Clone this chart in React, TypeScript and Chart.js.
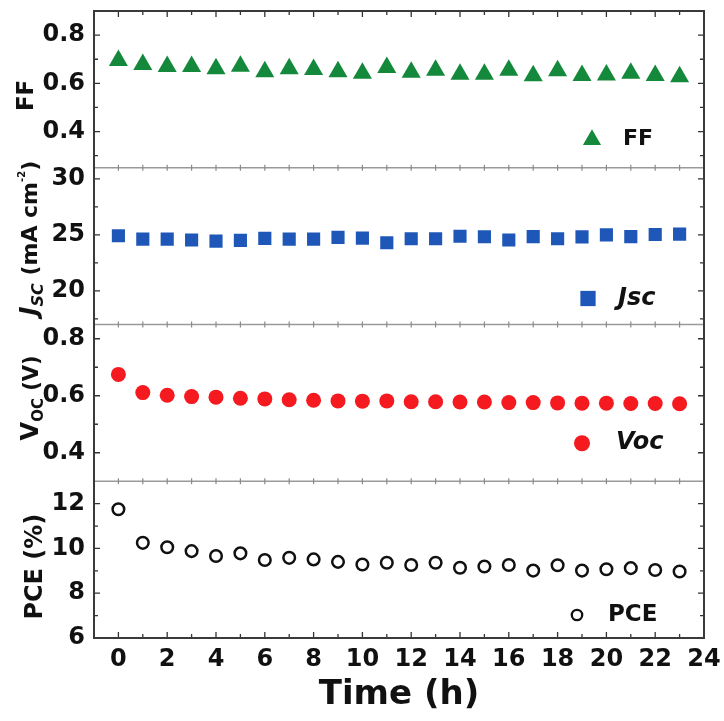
import React, { useEffect, useRef } from 'react';
import { Chart, registerables } from 'chart.js';
import { drawPoint } from 'chart.js/helpers';

Chart.register(...registerables);

// ---------- data ----------
const hours = [0, 1, 2, 3, 4, 5, 6, 7, 8, 9, 10, 11, 12, 13, 14, 15, 16, 17, 18, 19, 20, 21, 22, 23];

const ffValues = [0.695, 0.678, 0.670, 0.670, 0.661, 0.671, 0.648, 0.661, 0.657, 0.648, 0.642, 0.666,
  0.646, 0.654, 0.638, 0.638, 0.654, 0.632, 0.652, 0.633, 0.635, 0.642, 0.633, 0.627];

const jscValues = [24.93, 24.63, 24.63, 24.55, 24.45, 24.52, 24.69, 24.63, 24.63, 24.78, 24.72, 24.30,
  24.66, 24.66, 24.88, 24.84, 24.55, 24.85, 24.66, 24.82, 25.00, 24.85, 25.04, 25.07];

const vocValues = [0.675, 0.611, 0.602, 0.597, 0.595, 0.591, 0.589, 0.586, 0.584, 0.582, 0.581, 0.582,
  0.579, 0.579, 0.578, 0.578, 0.576, 0.576, 0.575, 0.574, 0.574, 0.573, 0.573, 0.572];

const pceValues = [11.75, 10.25, 10.05, 9.88, 9.66, 9.78, 9.48, 9.58, 9.51, 9.40, 9.28, 9.36,
  9.26, 9.36, 9.14, 9.19, 9.26, 9.01, 9.25, 9.01, 9.07, 9.12, 9.04, 8.97];

const xTickLabels = [0, 2, 4, 6, 8, 10, 12, 14, 16, 18, 20, 22, 24];
const xMinorTicks = [0, 1, 2, 3, 4, 5, 6, 7, 8, 9, 10, 11, 12, 13, 14, 15, 16, 17, 18, 19, 20, 21, 22, 23];

const ffTicks = [0.4, 0.6, 0.8];
const ffMinor = [0.3, 0.5, 0.7];
const jscTicks = [20, 25, 30];
const jscMinor = [17.5, 22.5, 27.5];
const vocTicks = [0.4, 0.6, 0.8];
const vocMinor = [0.5, 0.7];
const pceTicks = [6, 8, 10, 12];
const pceMinor = [7, 9, 11];

const seriesNames = ['FF', 'Jsc', 'Voc', 'PCE'];

// ---------- styling ----------
const FONT = 'DejaVu Sans';
const TEXT = '#111111';
const GREEN = '#14893b';
const BLUE = '#1f57b8';
const RED = '#f41a1f';

type Seg = { t: string; font: string; dy?: number };

const panels = [
  {
    id: 'yFF', name: seriesNames[0], values: ffValues, min: 0.25, max: 0.9, ticks: ffTicks, minor: ffMinor,
    point: { pointStyle: 'triangle', pointRadius: 11, backgroundColor: GREEN, borderColor: GREEN, borderWidth: 0 },
    legendPoint: { style: 'triangle', r: 10.5, fill: GREEN, stroke: GREEN, bw: 0 },
    legendFont: `bold 22px "${FONT}"`, legendDx: [-112, -81], legendDy: -28,
    title: [{ t: 'FF', font: `bold 23px "${FONT}"` }] as Seg[], titleX: 33, titleDy: 6,
  },
  {
    id: 'yJsc', name: seriesNames[1], values: jscValues, min: 17, max: 31, ticks: jscTicks, minor: jscMinor,
    point: { pointStyle: 'rect', pointRadius: 9.3, backgroundColor: BLUE, borderColor: BLUE, borderWidth: 0 },
    legendPoint: { style: 'rect', r: 10.8, fill: BLUE, stroke: BLUE, bw: 0 },
    legendFont: `italic bold 24px "${FONT}"`, legendDx: [-116, -86], legendDy: -26,
    title: [
      { t: 'J', font: `italic bold 24px "${FONT}"` },
      { t: 'SC', font: `italic bold 16px "${FONT}"`, dy: 6 },
      { t: ' (mA cm', font: `bold 22px "${FONT}"` },
      { t: '-2', font: `bold 10px "${FONT}"`, dy: -12 },
      { t: ')', font: `bold 22px "${FONT}"` },
    ] as Seg[], titleX: 37, titleDy: -8,
  },
  {
    id: 'yVoc', name: seriesNames[2], values: vocValues, min: 0.3, max: 0.85, ticks: vocTicks, minor: vocMinor,
    point: { pointStyle: 'circle', pointRadius: 7.5, backgroundColor: RED, borderColor: RED, borderWidth: 0 },
    legendPoint: { style: 'circle', r: 8, fill: RED, stroke: RED, bw: 0 },
    legendFont: `italic bold 24px "${FONT}"`, legendDx: [-122, -88], legendDy: -38,
    title: [
      { t: 'V', font: `bold 24px "${FONT}"` },
      { t: 'OC', font: `bold 15px "${FONT}"`, dy: 5 },
      { t: ' (V)', font: `bold 21px "${FONT}"` },
    ] as Seg[], titleX: 38, titleDy: -5,
  },
  {
    id: 'yPCE', name: seriesNames[3], values: pceValues, min: 6, max: 13, ticks: pceTicks, minor: pceMinor,
    point: { pointStyle: 'circle', pointRadius: 5.8, backgroundColor: 'rgba(255,255,255,0)', borderColor: '#111111', borderWidth: 2.5 },
    legendPoint: { style: 'circle', r: 5.2, fill: 'rgba(255,255,255,0)', stroke: '#111111', bw: 2.3 },
    legendFont: `bold 23px "${FONT}"`, legendDx: [-127, -96], legendDy: -23,
    title: [{ t: 'PCE (%)', font: `bold 24px "${FONT}"` }] as Seg[], titleX: 42, titleDy: 7,
  },
];

function drawRotatedTitle(ctx: CanvasRenderingContext2D, segs: Seg[], baseX: number, cy: number) {
  ctx.save();
  let total = 0;
  for (const s of segs) { ctx.font = s.font; total += ctx.measureText(s.t).width; }
  ctx.translate(baseX, cy);
  ctx.rotate(-Math.PI / 2);
  ctx.fillStyle = TEXT;
  ctx.textBaseline = 'alphabetic';
  ctx.textAlign = 'left';
  let x = -total / 2;
  for (const s of segs) {
    ctx.font = s.font;
    ctx.fillText(s.t, x, s.dy || 0);
    x += ctx.measureText(s.t).width;
  }
  ctx.restore();
}

const decorPlugin = {
  id: 'decor',
  afterDraw(chart: any) {
    const ctx: CanvasRenderingContext2D = chart.ctx;
    const area = chart.chartArea;
    const xs = chart.scales.x;
    ctx.save();

    panels.forEach((p, i) => {
      const s = chart.scales[p.id];
      ctx.strokeStyle = '#333333';
      ctx.lineWidth = 1.3;
      const yt = (v: number, len: number) => {
        const y = s.getPixelForValue(v);
        ctx.beginPath();
        ctx.moveTo(area.left, y); ctx.lineTo(area.left + len, y);
        ctx.moveTo(area.right, y); ctx.lineTo(area.right - len, y);
        ctx.stroke();
      };
      p.ticks.forEach((v) => yt(v, 6));
      p.minor.forEach((v) => yt(v, 4));

      if (i > 0) {
        const y = s.top;
        ctx.strokeStyle = '#9a9a9a';
        ctx.lineWidth = 1.5;
        ctx.beginPath();
        ctx.moveTo(area.left, y); ctx.lineTo(area.right, y);
        ctx.stroke();
        ctx.strokeStyle = '#8a8a8a';
        ctx.lineWidth = 1.2;
        xMinorTicks.forEach((v) => {
          const x = xs.getPixelForValue(v);
          ctx.beginPath();
          ctx.moveTo(x, y - 3); ctx.lineTo(x, y + 3);
          ctx.stroke();
        });
      }

      const lx = area.right + p.legendDx[0];
      const tx = area.right + p.legendDx[1];
      const ly = s.bottom + p.legendDy;
      ctx.fillStyle = p.legendPoint.fill;
      ctx.strokeStyle = p.legendPoint.stroke;
      ctx.lineWidth = p.legendPoint.bw;
      drawPoint(ctx, { pointStyle: p.legendPoint.style as any, rotation: 0, radius: p.legendPoint.r, borderWidth: p.legendPoint.bw }, lx, ly);
      ctx.fillStyle = TEXT;
      ctx.font = p.legendFont;
      ctx.textAlign = 'left';
      ctx.textBaseline = 'middle';
      ctx.fillText(p.name, tx, ly);

      drawRotatedTitle(ctx, p.title, p.titleX, (s.top + s.bottom) / 2 + p.titleDy);
    });

    ctx.strokeStyle = '#333333';
    ctx.lineWidth = 1.3;
    xMinorTicks.forEach((v) => {
      const x = xs.getPixelForValue(v);
      const len = v % 2 === 0 ? 6 : 4;
      ctx.beginPath();
      ctx.moveTo(x, area.top); ctx.lineTo(x, area.top + len);
      ctx.moveTo(x, area.bottom); ctx.lineTo(x, area.bottom - len);
      ctx.stroke();
    });

    ctx.strokeStyle = '#3a3a3a';
    ctx.lineWidth = 2;
    ctx.strokeRect(area.left, area.top, area.right - area.left, area.bottom - area.top);
    ctx.restore();
  },
};

export default function App() {
  const ref = useRef<HTMLCanvasElement | null>(null);

  useEffect(() => {
    if (!ref.current) return;

    const scales: any = {
      x: {
        type: 'linear',
        position: 'bottom',
        min: -1,
        max: 24,
        afterBuildTicks: (s: any) => { s.ticks = xTickLabels.map((v) => ({ value: v })); },
        afterFit: (s: any) => { s.height = 83; s.paddingLeft = 0; s.paddingRight = 0; },
        grid: { display: false, drawTicks: false },
        border: { display: false },
        ticks: {
          font: { family: FONT, size: 24, weight: 'bold' },
          color: TEXT,
          padding: 7,
          maxRotation: 0,
          autoSkip: false,
          callback: (v: any) => String(v),
        },
        title: {
          display: true,
          text: 'Time (h)',
          font: { family: FONT, size: 34, weight: 'bold' },
          color: TEXT,
          padding: { top: 0, bottom: 5 },
        },
      },
    };

    [...panels].reverse().forEach((p) => {
      scales[p.id] = {
        type: 'linear',
        position: 'left',
        stack: 'panels',
        stackWeight: 1,
        min: p.min,
        max: p.max,
        afterBuildTicks: (s: any) => { s.ticks = p.ticks.map((v) => ({ value: v })); },
        afterFit: (s: any) => { s.width = 94; s.paddingTop = 0; s.paddingBottom = 0; },
        grid: { display: false, drawTicks: false },
        border: { display: false },
        ticks: {
          font: { family: FONT, size: 24, weight: 'bold' },
          color: TEXT,
          padding: 9,
          autoSkip: false,
          callback: (v: any) => String(v),
        },
      };
    });

    const datasets = panels.map((p) => ({
      label: p.name,
      yAxisID: p.id,
      xAxisID: 'x',
      data: hours.map((h, i) => ({ x: h, y: p.values[i] })),
      showLine: false,
      ...p.point,
      pointBackgroundColor: p.point.backgroundColor,
      pointBorderColor: p.point.borderColor,
      pointBorderWidth: p.point.borderWidth,
    }));

    const chart = new Chart(ref.current, {
      type: 'scatter',
      data: { datasets } as any,
      options: {
        responsive: false,
        animation: false,
        events: [],
        layout: { padding: { left: 0, right: 20, top: 11, bottom: 0 } },
        plugins: { legend: { display: false }, tooltip: { enabled: false }, title: { display: false } },
        scales,
      },
      plugins: [decorPlugin],
    });

    return () => chart.destroy();
  }, []);

  return (
    <div style={{ position: 'absolute', left: 0, top: 0, width: 724, height: 721, background: '#ffffff' }}>
      <canvas ref={ref} width={724} height={721} style={{ display: 'block' }} />
    </div>
  );
}
